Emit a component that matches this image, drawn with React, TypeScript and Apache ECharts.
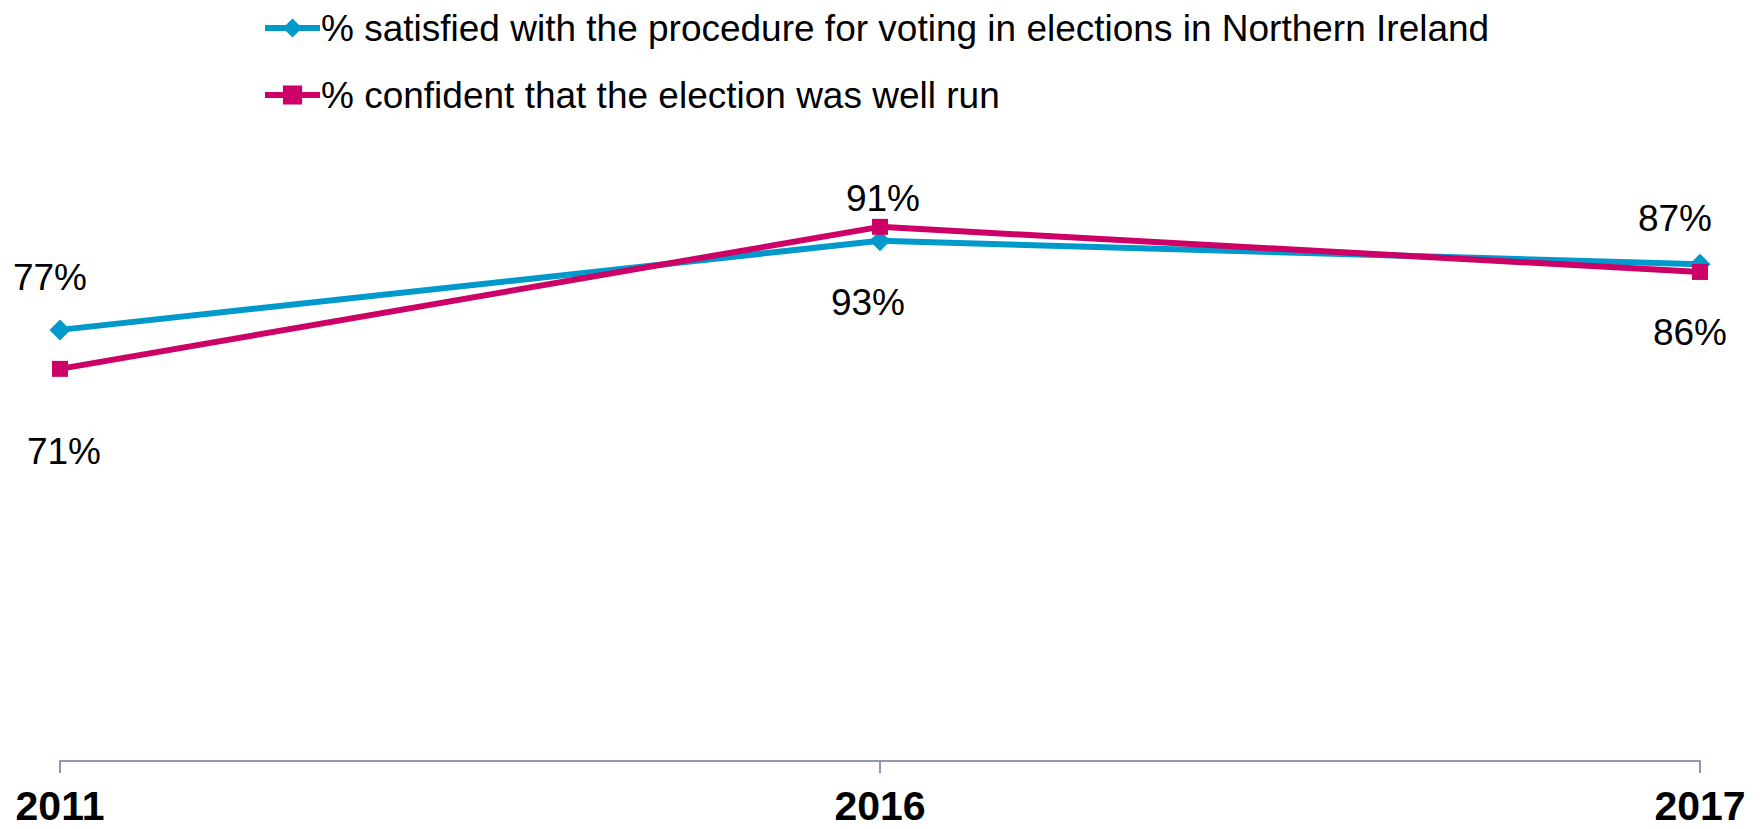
import React, { useEffect, useRef } from "react";
import * as echarts from "echarts";

const categories = ["2011", "2016", "2017"];
const seriesNames = [
  "% satisfied with the procedure for voting in elections in Northern Ireland",
  "% confident that the election was well run",
];
const satisfiedValues = [77.4, 93.4, 89.2];
const confidentValues = [70.4, 95.9, 87.8];
const satisfiedLabels = ["77%", "93%", "87%"];
const confidentLabels = ["71%", "91%", "86%"];
const satisfiedLabelOffsets = [[-10, -52], [-12, 62], [-25, -46]];
const confidentLabelOffsets = [[4, 83], [3, -28], [-10, 61]];

const BLUE = "#0099CC";
const PINK = "#CC0066";
const FONT = "Liberation Sans, Arial, sans-serif";

function buildData(values: number[], labels: string[], offsets: number[][]) {
  return values.map((v, i) => ({
    value: v,
    label: {
      show: true,
      position: "inside",
      offset: offsets[i],
      formatter: labels[i],
      color: "#000",
      fontSize: 37,
      fontFamily: FONT,
    },
  }));
}

export default function App() {
  const ref = useRef<HTMLDivElement>(null);
  useEffect(() => {
    if (!ref.current) return;
    const chart = echarts.init(ref.current, undefined, { renderer: "svg" });
    chart.setOption({
      animation: false,
      backgroundColor: "#fff",
      legend: {
        orient: "vertical",
        left: 257,
        top: 1,
        itemWidth: 55,
        itemHeight: 24,
        itemGap: 23,
        lineStyle: { width: 6 },
        textStyle: {
          fontSize: 37,
          lineHeight: 44,
          color: "#000",
          fontFamily: FONT,
          padding: [0, 0, 0, -4],
        },
        data: seriesNames,
      },
      grid: { left: 60, right: 62, top: 204, bottom: 68, containLabel: false },
      xAxis: {
        type: "category",
        data: categories,
        boundaryGap: false,
        axisLine: { lineStyle: { color: "#8E98AE", width: 2 } },
        axisTick: { show: true, length: 12, lineStyle: { color: "#8E98AE", width: 2 } },
        axisLabel: {
          fontSize: 41,
          lineHeight: 41,
          fontWeight: "bold",
          color: "#000",
          margin: 24,
          fontFamily: FONT,
        },
      },
      yAxis: {
        type: "value",
        min: 0,
        max: 100,
        show: false,
        splitLine: { show: false },
      },
      series: [
        {
          name: seriesNames[0],
          type: "line",
          data: buildData(satisfiedValues, satisfiedLabels, satisfiedLabelOffsets),
          symbol: "diamond",
          symbolSize: 21,
          lineStyle: { color: BLUE, width: 6 },
          itemStyle: { color: BLUE },
          z: 2,
        },
        {
          name: seriesNames[1],
          type: "line",
          data: buildData(confidentValues, confidentLabels, confidentLabelOffsets),
          symbol: "rect",
          symbolSize: 16,
          lineStyle: { color: PINK, width: 6 },
          itemStyle: { color: PINK },
          z: 3,
        },
      ],
    });
    return () => chart.dispose();
  }, []);
  return (
    <div
      ref={ref}
      style={{ position: "fixed", left: 0, top: 0, width: 1762, height: 829 }}
    />
  );
}
